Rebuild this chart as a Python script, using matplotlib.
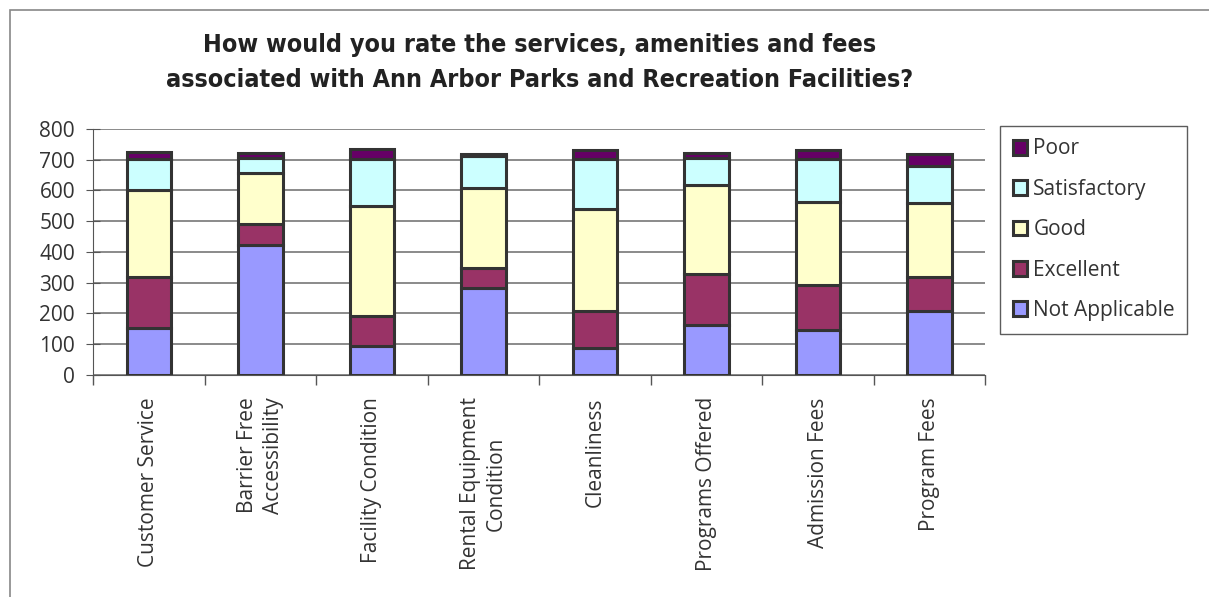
import matplotlib
matplotlib.use("Agg")
import matplotlib.pyplot as plt
import numpy as np
from matplotlib.patches import Rectangle

# Survey data

categories = ["Customer Service", "Barrier Free\nAccessibility", "Facility Condition",
              "Rental Equipment\nCondition", "Cleanliness", "Programs Offered",
              "Admission Fees", "Program Fees"]

not_applicable = [152, 423, 94, 282, 86, 163, 146, 208]
excellent = [168, 68, 96, 65, 123, 165, 148, 110]
good = [282, 165, 361, 261, 330, 289, 270, 240]
satisfactory = [100, 51, 150, 104, 162, 90, 137, 122]
poor = [24, 14, 34, 6, 31, 14, 31, 38]

series = [("Not Applicable", not_applicable, "#9999FF"),
          ("Excellent", excellent, "#993366"),
          ("Good", good, "#FFFFCC"),
          ("Satisfactory", satisfactory, "#CCFFFF"),
          ("Poor", poor, "#660066")]

plt.rcParams["font.family"] = ["Open Sans", "DejaVu Sans"]
txt_col = "#333333"

fig = plt.figure(figsize=(12.09, 5.97), dpi=100)
ax = fig.add_axes([0.077, 0.372, 0.738, 0.412])

# outer chart border
fig.patches.append(Rectangle((10 / 1209, -0.01), 1.0, 1 - 10 / 597 + 0.01,
                             transform=fig.transFigure, fill=False,
                             edgecolor="#888888", linewidth=1.2))

x = np.arange(len(categories))
bottom = np.zeros(len(categories))
handles = []
for name, vals, col in series:
    b = ax.bar(x, vals, 0.4, bottom=bottom, color=col, edgecolor="#333333",
               linewidth=2.2, label=name, zorder=3)
    handles.append(b)
    bottom = bottom + np.array(vals)

ax.set_xlim(-0.5, len(categories) - 0.5)
ax.set_ylim(0, 800)
ax.set_yticks(range(0, 801, 100))
ax.yaxis.grid(True, color="#777777", linewidth=1.2, zorder=0)
ax.set_axisbelow(True)

ax.set_xticks(x)
ax.set_xticklabels(categories, rotation=90, ha="center", va="top", fontsize=15,
                   linespacing=1.3, color=txt_col)
ax.tick_params(axis="x", length=0, pad=16)
ax.set_xticks(np.arange(-0.5, len(categories)), minor=True)
ax.tick_params(axis="x", which="minor", length=7, width=1, color="#555555")
ax.tick_params(axis="y", labelsize=15, length=10, direction="inout", pad=8,
               color="#555555", labelcolor=txt_col)

for s in ["top", "right"]:
    ax.spines[s].set_visible(False)
for s in ["left", "bottom"]:
    ax.spines[s].set_color("#555555")

title_font = dict(ha="center", va="center", fontsize=18, fontweight="bold",
                  family=["DejaVu Sans", "Open Sans"], fontstretch="condensed",
                  color="#222222")
fig.text(0.446, 0.925, "How would you rate the services, amenities and fees", **title_font)
fig.text(0.446, 0.866, "associated with Ann Arbor Parks and Recreation Facilities?",
         **title_font)

leg = fig.legend(handles[::-1], [s[0] for s in series][::-1],
                 loc="upper left", bbox_to_anchor=(1000 / 1209, 1 - 126 / 597),
                 fontsize=15, frameon=True, fancybox=False, edgecolor="#333333",
                 handlelength=0.7, handleheight=0.7, handletextpad=0.3,
                 labelspacing=0.93, borderpad=0.6, borderaxespad=0)
leg.get_frame().set_linewidth(1.0)
for t in leg.get_texts():
    t.set_color(txt_col)

fig.savefig("out.png", dpi=100)
